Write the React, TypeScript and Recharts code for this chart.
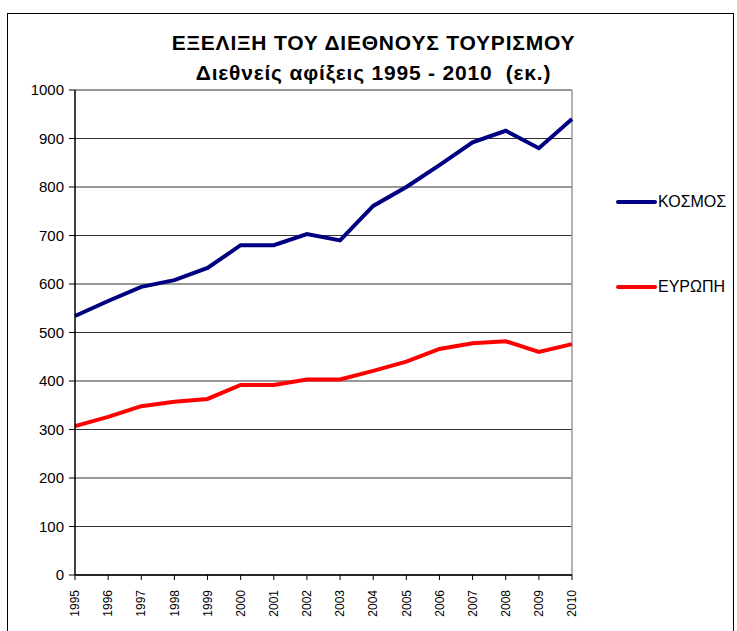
import React from 'react';
import {
  LineChart,
  Line,
  XAxis,
  YAxis,
  CartesianGrid,
  ReferenceLine,
} from 'recharts';

const years = ['1995', '1996', '1997', '1998', '1999', '2000', '2001', '2002', '2003', '2004', '2005', '2006', '2007', '2008', '2009', '2010'];
const world = [534, 565, 594, 608, 633, 680, 680, 703, 690, 761, 800, 845, 892, 916, 880, 940];
const europe = [307, 326, 348, 357, 363, 392, 392, 403, 403, 421, 440, 466, 478, 482, 460, 476];
const yTicks = [0, 100, 200, 300, 400, 500, 600, 700, 800, 900, 1000];
const seriesNames = ['ΚΟΣΜΟΣ', 'ΕΥΡΩΠΗ'];
const seriesColors = ['#000080', '#ff0000'];

const data = years.map((year, i) => ({ year, world: world[i], europe: europe[i] }));

const font = '"Liberation Sans", Arial, sans-serif';

const YearTick = (props: any) => {
  const { x, y, payload } = props;
  const ty = y + 8;
  return (
    <text
      x={x}
      y={ty}
      transform={`rotate(-90, ${x}, ${ty})`}
      textAnchor="end"
      dy="0.35em"
      fontSize={12}
      fontFamily={font}
      fill="#000"
    >
      {payload.value}
    </text>
  );
};

const LegendBox = () => (
  <div style={{ position: 'absolute', left: 616, top: 192, fontFamily: font, fontSize: 16, color: '#000' }}>
    {seriesNames.map((name, i) => (
      <div key={name} style={{ display: 'flex', alignItems: 'center', height: 20, marginTop: i === 0 ? 0 : 65 }}>
        <span style={{ display: 'inline-block', width: 41, height: 4, borderRadius: 2, background: seriesColors[i], marginRight: 1 }} />
        <span>{name}</span>
      </div>
    ))}
  </div>
);

const App = () => {
  return (
    <div style={{ position: 'absolute', left: 0, top: 0, width: 737, height: 631, background: '#fff', overflow: 'hidden' }}>
      <div
        style={{
          position: 'absolute',
          left: 7,
          top: 13,
          width: 725,
          height: 640,
          border: '1.5px solid #000',
        }}
      />
      <div
        style={{
          position: 'absolute',
          left: 0,
          width: 747,
          top: 28,
          textAlign: 'center',
          fontFamily: font,
          fontWeight: 'bold',
          fontSize: 21,
          letterSpacing: 0.8,
          lineHeight: '30px',
          color: '#000',
        }}
      >
        <div>ΕΞΕΛΙΞΗ ΤΟΥ ΔΙΕΘΝΟΥΣ ΤΟΥΡΙΣΜΟΥ</div>
        <div style={{ whiteSpace: 'pre' }}>Διεθνείς αφίξεις 1995 - 2010  (εκ.)</div>
      </div>
      <div style={{ position: 'absolute', left: 0, top: 0 }}>
        <LineChart width={737} height={631} data={data} margin={{ top: 90, right: 165, bottom: 0, left: 10 }}>
          <CartesianGrid vertical={false} stroke="#333" strokeWidth={1} />
          <ReferenceLine y={1000} stroke="#999" strokeWidth={1.5} />
          <ReferenceLine x="2010" stroke="#999" strokeWidth={1.5} />
          <XAxis
            dataKey="year"
            height={56}
            interval={0}
            tick={<YearTick />}
            tickSize={5}
            axisLine={{ stroke: '#000', strokeWidth: 1.5 }}
            tickLine={{ stroke: '#000' }}
          />
          <YAxis
            width={65}
            domain={[0, 1000]}
            ticks={yTicks}
            interval={0}
            tickSize={6}
            tickMargin={5}
            axisLine={{ stroke: '#000', strokeWidth: 1.5 }}
            tickLine={{ stroke: '#000' }}
            tick={{ fill: '#000', fontSize: 15, fontFamily: font }}
          />
          <Line
            type="linear"
            dataKey="world"
            name={seriesNames[0]}
            stroke={seriesColors[0]}
            strokeWidth={4}
            dot={false}
            isAnimationActive={false}
          />
          <Line
            type="linear"
            dataKey="europe"
            name={seriesNames[1]}
            stroke={seriesColors[1]}
            strokeWidth={4}
            dot={false}
            isAnimationActive={false}
          />
        </LineChart>
      </div>
      <LegendBox />
    </div>
  );
};

export default App;
